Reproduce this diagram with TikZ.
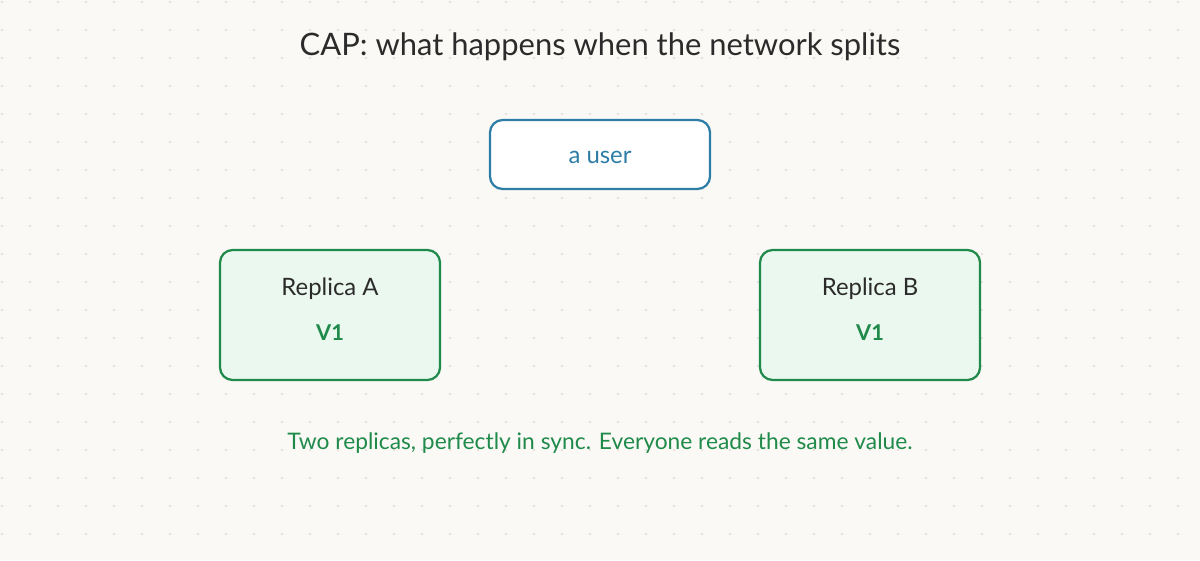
\documentclass[tikz,border=0pt]{standalone}
\usepackage{fontspec}
\setmainfont{Lato}
\usetikzlibrary{positioning}
\definecolor{pBg}{HTML}{FAF9F5}
\definecolor{pDot}{HTML}{DAD9D2}
\definecolor{pInk}{HTML}{2B2B2B}
\definecolor{pBlue}{HTML}{2E7DA6}
\definecolor{pGreen}{HTML}{1F8A4A}
\definecolor{pGreenFill}{HTML}{EAF8EF}
\tikzset{
  userbox/.style  = {draw=pBlue, fill=white, line width=1.6pt, rounded corners=9pt,
                     minimum width=5.5cm, minimum height=1.725cm},
  replbox/.style  = {draw=pGreen, fill=pGreenFill, line width=1.6pt, rounded corners=9pt,
                     minimum width=5.5cm, minimum height=3.25cm},
  ttl/.style      = {font=\fontsize{22}{26}\selectfont, text=pInk},
  rname/.style    = {font=\fontsize{17}{20}\selectfont, text=pInk},
  rval/.style     = {font=\fontsize{15.5}{18}\selectfont\bfseries, text=pGreen},
  note/.style     = {font=\fontsize{16.2}{19}\selectfont, text=pGreen},
}

\begin{document}
\begin{tikzpicture}[x=0.025cm, y=-0.025cm]
  \useasboundingbox (0,0) rectangle (1200,560);
  \fill[pBg] (0,0) rectangle (1200,560);
  % dot grid
  \foreach \gx in {2,30,...,1200}
    \foreach \gy in {2,30,...,560}
      \fill[pDot] (\gx,\gy) circle (1.2);

  \node[ttl] (title) at (600,47) {CAP: what happens when the network splits};

  \node[userbox] (user) at (600,154.5) {};
  \node[text=pBlue, font=\fontsize{17}{20}\selectfont] (userlbl) at (600,157) {a user};

  \node[replbox] (repA) at (330,315) {};
  \node[rname] (nameA) at (330,289) {Replica A};
  \node[rval]  (valA)  at (330,333) {V1};

  \node[replbox] (repB) at (870,315) {};
  \node[rname] (nameB) at (870,289) {Replica B};
  \node[rval]  (valB)  at (870,333) {V1};

  \node[note] (caption) at (600,443) {Two replicas, perfectly in sync. Everyone reads the same value.};
\end{tikzpicture}
\end{document}
